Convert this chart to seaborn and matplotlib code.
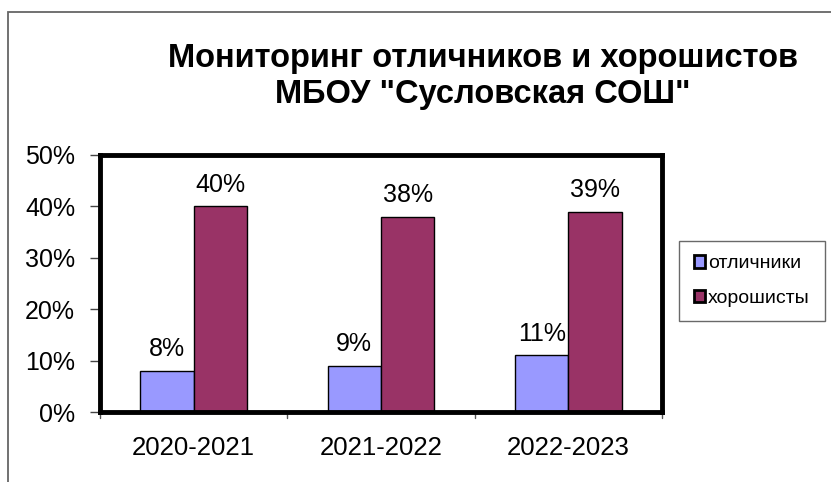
import numpy as np
import pandas as pd
import matplotlib
matplotlib.use("Agg")
import matplotlib.pyplot as plt
import seaborn as sns
from matplotlib.patches import Rectangle
from matplotlib.ticker import PercentFormatter

# data
years = ["2020-2021", "2021-2022", "2022-2023"]
series_names = ["отличники", "хорошисты"]
otlichniki = [8, 9, 11]
horoshisty = [40, 38, 39]
yticks = [0, 10, 20, 30, 40, 50]
title = 'Мониторинг отличников и хорошистов\nМБОУ "Сусловская СОШ"'

colors = ["#9999FF", "#993366"]

df = pd.DataFrame({
    "year": years * 2,
    "group": [series_names[0]] * len(years) + [series_names[1]] * len(years),
    "value": otlichniki + horoshisty,
})

sns.set_style("white")
plt.rcParams['font.family'] = ['Liberation Sans', 'DejaVu Sans']
plt.rcParams['text.color'] = "black"
plt.rcParams['xtick.color'] = "black"
plt.rcParams['ytick.color'] = "black"

W, H = 831, 482
fig = plt.figure(figsize=(W / 100, H / 100), dpi=100)
ax = fig.add_axes([100 / W, 1 - 412 / H, 562 / W, 257 / H])

sns.barplot(data=df, x="year", y="value", hue="group", palette=colors,
            saturation=1, width=0.57, edgecolor="black", linewidth=1,
            ax=ax, legend=True)

ax.set_ylim(0, 50)
ax.set_xlim(-0.5, 2.5)
ax.set_yticks(yticks)
ax.yaxis.set_major_formatter(PercentFormatter(decimals=0))
ax.set_xlabel("")
ax.set_ylabel("")
ax.tick_params(axis="y", labelsize=18, labelcolor="black", direction="out",
               length=7, width=1, left=True, pad=11, color="#444444")
ax.tick_params(axis="x", labelsize=18.5, labelcolor="black", bottom=False, pad=14)
# separator ticks between categories
for xb in [-0.5, 0.5, 1.5, 2.5]:
    ax.plot([xb, xb], [0, -1.2], color="#555555", lw=1, clip_on=False)

for s in ax.spines.values():
    s.set_visible(True)
    s.set_color("black")
    s.set_linewidth(3.5)

for cont in ax.containers:
    ax.bar_label(cont, labels=[f"{int(v)}%" for v in cont.datavalues],
                 padding=7, fontsize=18, color="black")

fig.suptitle(title, x=483 / W, y=1 - 43 / H, fontsize=23.5, color="black",
             fontweight="bold", linespacing=1.2)

leg = ax.legend(loc="center left", bbox_to_anchor=(679 / W, 1 - 281 / H),
                bbox_transform=fig.transFigure, frameon=True, fontsize=14,
                handlelength=0.6, handleheight=0.6, handletextpad=0.15,
                labelspacing=0.9, borderpad=0.75, fancybox=False,
                borderaxespad=0)
leg.get_frame().set_edgecolor("#444444")
leg.get_frame().set_linewidth(1)
for h in leg.legend_handles:
    h.set_edgecolor("black")
    h.set_linewidth(2)

# outer chart frame
fig.patches.append(Rectangle((8 / W, -0.05), 1.1, 1 - 12 / H + 0.05,
                             transform=fig.transFigure, fill=False,
                             edgecolor="#666666", lw=1.3))

fig.savefig("out.png", dpi=100)
